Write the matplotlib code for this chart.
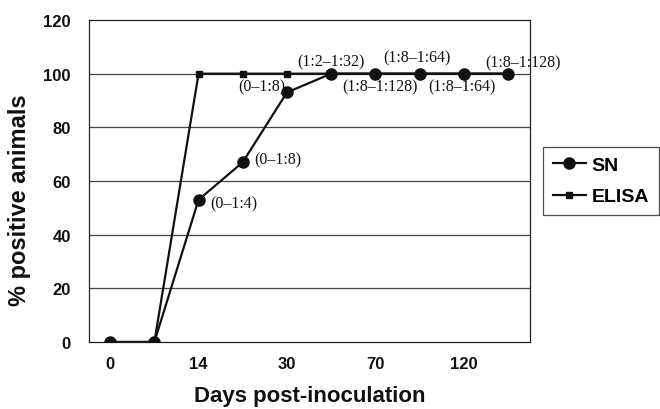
import matplotlib.pyplot as plt

# dias (categorias), só alguns têm rótulo no eixo
dias = ['0', '', '14', '', '30', '', '70', '', '120', '']
sn = [0, 0, 53, 67, 93, 100, 100, 100, 100, 100]
elisa = [0, 0, 100, 100, 100, 100, 100, 100, 100, 100]

# títulos SN por ponto (índice, texto)
titulos = [(2, '(0–1:4)'), (3, '(0–1:8)'), (4, '(0–1:8)'), (5, '(1:2–1:32)'),
           (6, '(1:8–1:128)'), (7, '(1:8–1:64)'), (8, '(1:8–1:64)'), (9, '(1:8–1:128)')]

plt.rcParams['font.family'] = ['Liberation Sans', 'DejaVu Sans']

fig = plt.figure(figsize=(6.6, 4.1), dpi=100)
ax = fig.add_axes([0.1348, 0.1634, 0.803 - 0.1348, 0.9488 - 0.1634])

x = list(range(len(dias)))
ax.plot(x, elisa, color='#111111', lw=1.6, marker='s', ms=5, label='ELISA', zorder=3)
ax.plot(x, sn, color='#111111', lw=1.6, marker='o', ms=8, label='SN', zorder=4)

# posições dos textos (deslocamento em pixels, alinhamento)
offs = {2: (12, -4, 'left'), 3: (12, 3, 'left'), 4: (-2, 6, 'right'),
        5: (0, 12, 'center'), 6: (5, -13, 'center'), 7: (-3, 16, 'center'),
        8: (-2, -13, 'center'), 9: (15, 11, 'center')}
for i, t in titulos:
    dx, dy, ha = offs[i]
    ax.annotate(t, (i, sn[i]), xytext=(dx, dy), textcoords='offset pixels',
                ha=ha, va='center', fontsize=11.5, family='Liberation Serif',
                color='#111111', annotation_clip=False, zorder=5)

ax.set_xlim(-0.48, 9.5)
ax.set_ylim(0, 120)
ax.set_yticks(range(0, 121, 20))
ax.set_xticks([0, 2, 4, 6, 8])
ax.set_xticklabels([d for d in dias if d])
ax.tick_params(length=0, labelsize=12)
ax.tick_params(axis='y', pad=13)
ax.tick_params(axis='x', pad=10)
for lab in ax.get_xticklabels() + ax.get_yticklabels():
    lab.set_fontweight('bold')
    lab.set_color('#111111')

for y in range(20, 120, 20):
    ax.axhline(y, color='#444444', lw=0.9, zorder=1)
for s in ax.spines.values():
    s.set_linewidth(0.9)
    s.set_color('#222222')

ax.set_xlabel('Days post-inoculation', fontsize=16, fontweight='bold', labelpad=10, color='#111111')
fig.text(20 / 660, 1 - 200 / 410, '% positive animals', rotation=90, ha='center', va='center',
         fontsize=17, fontweight='bold', color='#111111')

h, l = ax.get_legend_handles_labels()
leg = fig.legend(h[::-1], l[::-1], loc='center left', bbox_to_anchor=(543 / 660, 1 - 182 / 410),
                 borderaxespad=0, frameon=True, fancybox=False, edgecolor='#222222',
                 handlelength=1.7, handletextpad=0.3, borderpad=0.5, labelspacing=0.7,
                 prop={'weight': 'bold', 'size': 14})
leg.get_frame().set_linewidth(0.9)

fig.savefig('out.png', dpi=100)
